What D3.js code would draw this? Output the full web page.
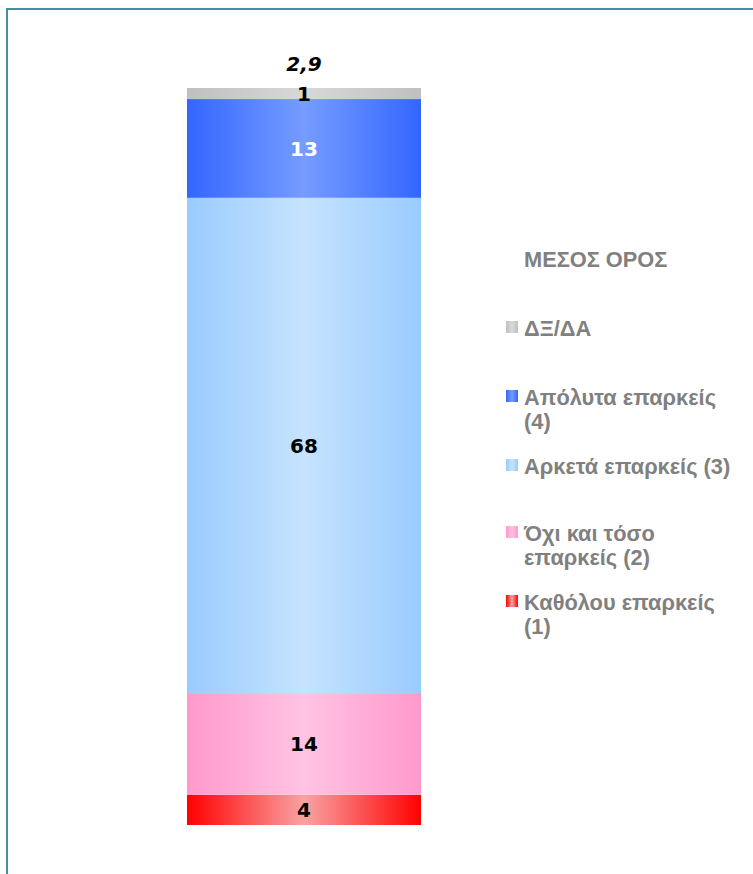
<!DOCTYPE html>
<html>
<head>
<meta charset="utf-8">
<script src="https://cdn.jsdelivr.net/npm/d3@7"></script>
<style>
  html, body { margin: 0; padding: 0; background: #ffffff; }
  svg { display: block; }
</style>
</head>
<body>
<svg id="chart" width="753" height="874"></svg>
<script>
// ---- data (bottom to top) ----
const categories = ["Καθόλου επαρκείς (1)", "Όχι και τόσο επαρκείς (2)", "Αρκετά επαρκείς (3)", "Απόλυτα επαρκείς (4)", "ΔΞ/ΔΑ"];
const values = [4.1, 13.8, 67.2, 13.4, 1.5];
const valueLabels = ["4", "14", "68", "13", "1"];
const labelColors = ["#000", "#000", "#000", "#fff", "#000"];
const edgeColors = ["#ff0000", "#ff99cc", "#99ccff", "#3366ff", "#c0c0c0"];
const midColors = ["#f9a3a3", "#ffc3e3", "#c6e3ff", "#769cff", "#d8d8d8"];
const meanLabel = "2,9";
const legendTitle = "ΜΕΣΟΣ ΟΡΟΣ";
// legend order top to bottom, with line breaks
const legendItems = [
  { idx: 4, lines: ["ΔΞ/ΔΑ"] },
  { idx: 3, lines: ["Απόλυτα επαρκείς", "(4)"] },
  { idx: 2, lines: ["Αρκετά επαρκείς (3)"] },
  { idx: 1, lines: ["Όχι και τόσο", "επαρκείς (2)"] },
  { idx: 0, lines: ["Καθόλου επαρκείς", "(1)"] }
];
const legendBaselines = [336, 405, 474, 541, 610];

const svg = d3.select("#chart");

// frame
svg.append("rect")
  .attr("x", 7).attr("y", 9)
  .attr("width", 800).attr("height", 900)
  .attr("fill", "none")
  .attr("stroke", "#468fa0")
  .attr("stroke-width", 2);

// gradients
const defs = svg.append("defs");
edgeColors.forEach((c, i) => {
  const g = defs.append("linearGradient")
    .attr("id", "grad" + i)
    .attr("x1", "0").attr("x2", "1").attr("y1", "0").attr("y2", "0");
  g.append("stop").attr("offset", "0").attr("stop-color", c);
  g.append("stop").attr("offset", "0.5").attr("stop-color", midColors[i]);
  g.append("stop").attr("offset", "1").attr("stop-color", c);
});

// scales
const x = d3.scaleBand().domain(["Σύνολο"]).range([187, 421]).padding(0);
const y = d3.scaleLinear().domain([0, 100]).range([825, 88]);

// stacked
const stackData = [];
let acc = 0;
values.forEach((v, i) => {
  stackData.push({ i, y0: acc, y1: acc + v, label: valueLabels[i] });
  acc += v;
});

svg.append("g").selectAll("rect")
  .data(stackData)
  .join("rect")
  .attr("x", x("Σύνολο"))
  .attr("width", x.bandwidth())
  .attr("y", d => y(d.y1))
  .attr("height", d => y(d.y0) - y(d.y1))
  .attr("fill", d => "url(#grad" + d.i + ")");

svg.append("g").selectAll("text")
  .data(stackData)
  .join("text")
  .attr("x", x("Σύνολο") + x.bandwidth() / 2)
  .attr("y", d => (y(d.y0) + y(d.y1)) / 2)
  .attr("dy", "0.36em")
  .attr("text-anchor", "middle")
  .attr("font-family", "DejaVu Sans, Verdana, sans-serif")
  .attr("font-weight", "bold")
  .attr("font-size", 20)
  .attr("fill", d => labelColors[d.i])
  .text(d => d.label);

// mean label
svg.append("text")
  .attr("x", x("Σύνολο") + x.bandwidth() / 2)
  .attr("y", y(100) - 17)
  .attr("text-anchor", "middle")
  .attr("font-family", "DejaVu Sans, Verdana, sans-serif")
  .attr("font-weight", "bold")
  .attr("font-style", "italic")
  .attr("font-size", 20)
  .attr("fill", "#000")
  .text(meanLabel);

// legend
const lg = svg.append("g");
lg.append("text")
  .attr("x", 524).attr("y", 267)
  .attr("font-family", "Liberation Sans, Arial, sans-serif")
  .attr("font-weight", "bold")
  .attr("font-size", 21.8)
  .attr("fill", "#808080")
  .text(legendTitle);

legendItems.forEach((it, k) => {
  const by = legendBaselines[k];
  lg.append("rect")
    .attr("x", 506).attr("y", by - 15)
    .attr("width", 12).attr("height", 12)
    .attr("fill", "url(#grad" + it.idx + ")");
  const t = lg.append("text")
    .attr("font-family", "Liberation Sans, Arial, sans-serif")
    .attr("font-weight", "bold")
    .attr("font-size", 21.8)
    .attr("fill", "#808080");
  it.lines.forEach((ln, j) => {
    t.append("tspan").attr("x", 524).attr("y", by + j * 24).text(ln);
  });
});
</script>
</body>
</html>
